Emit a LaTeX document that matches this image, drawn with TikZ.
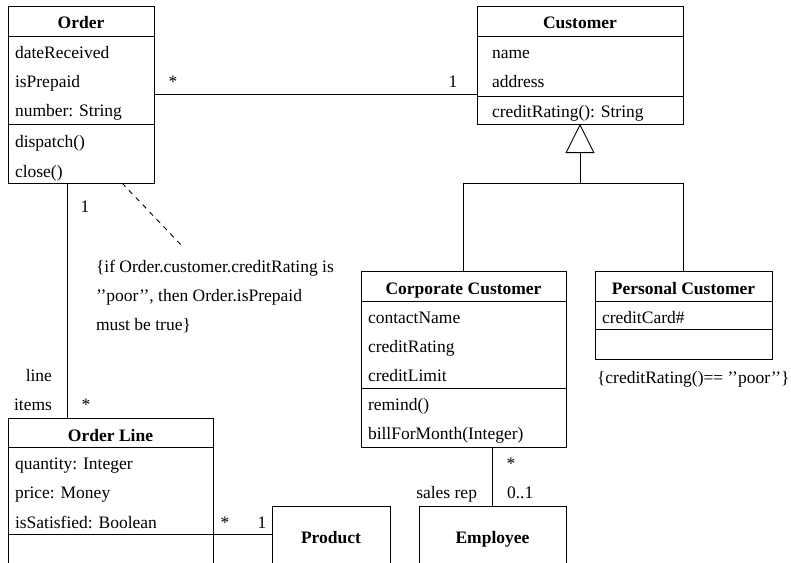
\documentclass[tikz,border=0pt]{standalone}
\usepackage{fontspec}
\setmainfont{Liberation Serif}
\usetikzlibrary{arrows.meta}
\begin{document}
\begin{tikzpicture}[x=1pt,y=-1pt,
  every node/.style={font=\fontsize{17.5}{21}\selectfont, inner sep=0pt, outer sep=0pt},
  classbox/.style={draw, line width=0.9pt, anchor=north west},
  title/.style={font=\fontsize{17.5}{21}\selectfont\bfseries, anchor=base},
  attr/.style={anchor=base west},
  lbl/.style={anchor=base},
  lblr/.style={anchor=base east},
  lbll/.style={anchor=base west},
  conn/.style={line width=0.9pt},
  divider/.style={line width=0.9pt},
]
\useasboundingbox (0,0) rectangle (791,562);
\clip (0,0) rectangle (791,562);

% ---------- class boxes ----------
\node[classbox, minimum width=146, minimum height=177] (order)    at (8,6)     {};
\node[classbox, minimum width=206, minimum height=118] (customer) at (477,6)   {};
\node[classbox, minimum width=205, minimum height=176] (corp)     at (361,271) {};
\node[classbox, minimum width=177, minimum height=88]  (pers)     at (595,271) {};
\node[classbox, minimum width=205, minimum height=190] (oline)    at (8,418)   {};
\node[classbox, minimum width=118, minimum height=100] (product)  at (272,506) {};
\node[classbox, minimum width=147, minimum height=100] (employee) at (419,506) {};

% compartment dividers
\draw[divider] (order.west |- 0,36)     -- (order.east |- 0,36);
\draw[divider] (order.west |- 0,124)    -- (order.east |- 0,124);
\draw[divider] (customer.west |- 0,36)  -- (customer.east |- 0,36);
\draw[divider] (customer.west |- 0,96)  -- (customer.east |- 0,96);
\draw[divider] (corp.west |- 0,301)     -- (corp.east |- 0,301);
\draw[divider] (corp.west |- 0,388)     -- (corp.east |- 0,388);
\draw[divider] (pers.west |- 0,301)     -- (pers.east |- 0,301);
\draw[divider] (pers.west |- 0,329)     -- (pers.east |- 0,329);
\draw[divider] (oline.west |- 0,447)    -- (oline.east |- 0,447);
\draw[divider] (oline.west |- 0,534.5)  -- (oline.east |- 0,534.5);

% ---------- class names ----------
\node[title] (tOrder)    at (order.north |- 0,28)    {Order};
\node[title] (tCustomer) at (customer.north |- 0,28) {Customer};
\node[title] (tCorp)     at (corp.north |- 0,294)    {Corporate Customer};
\node[title] (tPers)     at (pers.north |- 0,294)    {Personal Customer};
\node[title] (tOline)    at (oline.north |- 0,441)   {Order Line};
\node[title] (tProduct)  at (331,543)                {Product};
\node[title] (tEmployee) at (employee.north |- 0,543) {Employee};

% ---------- attributes and operations ----------
\node[attr] (o1) at (15,58)  {dateReceived};
\node[attr] (o2) at (15,87)  {isPrepaid};
\node[attr] (o3) at (15,116) {number: String};
\node[attr] (o4) at (15,147) {dispatch()};
\node[attr] (o5) at (15,177) {close()};

\node[attr] (c1) at (492,58)  {name};
\node[attr] (c2) at (492,87)  {address};
\node[attr] (c3) at (492,117) {creditRating(): String};

\node[attr] (cc1) at (368,323) {contactName};
\node[attr] (cc2) at (368,352) {creditRating};
\node[attr] (cc3) at (368,381) {creditLimit};
\node[attr] (cc4) at (368,410) {remind()};
\node[attr] (cc5) at (368,439) {billForMonth(Integer)};

\node[attr] (pc1) at (602,323) {creditCard\#};

\node[attr] (ol1) at (15,469) {quantity: Integer};
\node[attr] (ol2) at (15,498) {price: Money};
\node[attr] (ol3) at (15,528) {isSatisfied: Boolean};

% ---------- associations ----------
\draw[conn] (order.east) -- (order.east -| customer.west);
\node[lbl] (m1) at (173,87) {*};
\node[lbl] (m2) at (453,87) {1};

\coordinate (olTop) at (67,418);
\draw[conn] (order.south -| olTop) -- (olTop);
\node[lbl]  (m3) at (85,212)  {1};
\node[lblr] (r1) at (52,381)  {line};
\node[lblr] (r2) at (52,410)  {items};
\node[lbl]  (m4) at (86,410)  {*};

\coordinate (olProd) at (213,534.5);
\draw[conn] (olProd) -- (olProd -| product.west);
\node[lbl] (m5) at (225,528) {*};
\node[lbl] (m6) at (262,528) {1};

\draw[conn] (corp.south -| employee.north) -- (employee.north);
\node[lbl]  (m7) at (511,469) {*};
\node[lbll] (m8) at (507,498) {0..1};
\node[lblr] (r3) at (477,498) {sales rep};

% ---------- generalization ----------
\coordinate (gen) at (580,183);
\draw[conn] (corp.north) -- (corp.north |- gen) -- (pers.north |- gen) -- (pers.north);
\draw[conn, -{Triangle[open, length=29pt, width=29pt]}] (gen) -- (customer.south);

% ---------- constraints ----------
\coordinate (noteTip) at (184,248);
\draw[conn, dash pattern=on 5pt off 5pt] (order.south -| 122,0) -- (noteTip);
\node[anchor=north west, align=left, font=\fontsize{17.5}{29}\selectfont] (note) at (96,260)
  {\{if Order.customer.creditRating is\\’’poor’’, then Order.isPrepaid\\must be true\}};

\node[lbll] (pconstr) at (597,383) {\{creditRating()== ’’poor’’\}};
\end{tikzpicture}
\end{document}
